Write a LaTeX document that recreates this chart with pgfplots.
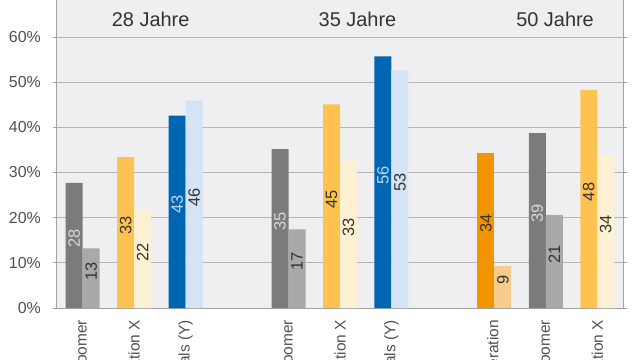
\documentclass[border=0pt]{standalone}
\usepackage{pgfplots}
\pgfplotsset{compat=1.18}
\usepackage{fontspec}
\setmainfont{Liberation Sans}
\definecolor{bg}{HTML}{EFEFF1}
\definecolor{axisgray}{HTML}{A4A4A6}
\definecolor{gridgray}{HTML}{B4B4B6}
\definecolor{labelgray}{HTML}{505050}
\definecolor{titlegray}{HTML}{333333}
\definecolor{dgray}{HTML}{7B7B7B}
\definecolor{lgray}{HTML}{A9A9A9}
\definecolor{yel}{HTML}{FDC250}
\definecolor{cream}{HTML}{FEF0D2}
\definecolor{blu}{HTML}{0066B2}
\definecolor{lblu}{HTML}{D4E4F5}
\definecolor{ora}{HTML}{F29400}
\definecolor{lora}{HTML}{F8CA8C}
\definecolor{lightlbl}{HTML}{D8D8D8}
\definecolor{bluelbl}{HTML}{BCD8F2}
\definecolor{darklbl}{HTML}{333333}
\pgfplotsset{
  lbl/.style 2 args={
    nodes near coords={\pgfmathprintnumber[fixed,precision=0,assume math mode=true]{\pgfplotspointmeta}},
    point meta=y,
    visualization depends on=rawy \as \rawy,
    every node near coord/.append style={
      shift={(axis direction cs:0,-\rawy/2)}, xshift=#1, yshift=7bp, rotate=90, anchor=center,
      font=\fontsize{16.5}{16.5}\selectfont, text=#2, inner sep=0pt},
  },
  mybar/.style 2 args={ybar, bar width=17bp, bar shift=#1, fill=#2, draw=none},
}
\begin{document}
\begin{tikzpicture}
\useasboundingbox (-57bp,-52bp) rectangle (583bp,308bp);
\clip (-57bp,-52bp) rectangle (583bp,308bp);
\begin{axis}[
  at={(0,0)}, anchor=south west,
  scale only axis, width=566bp, height=325.2bp,
  xmin=-0.5, xmax=10.5, ymin=0, ymax=72,
  axis background/.style={fill=bg},
  axis line style={draw=axisgray, line width=1bp},
  ytick={0,10,20,30,40,50,60},
  yticklabels={0\%,10\%,20\%,30\%,40\%,50\%,60\%},
  ymajorgrids, grid style={draw=gridgray, line width=1bp},
  tick align=outside, major tick length=4bp,
  ytick style={draw=axisgray, line width=1bp},
  xtick={0,1,2,4,5,6,8,9,10},
  xticklabels={Babyboomer,Generation X,Millennials (Y),Babyboomer,Generation X,Millennials (Y),Nachkriegsgeneration,Babyboomer,Generation X},
  xtick style={draw=none},
  xticklabel style={yshift=-8bp, rotate=90, anchor=east, inner sep=0pt, font=\fontsize{15.5}{15.5}\selectfont, text=labelgray},
  yticklabel style={xshift=-12bp, anchor=east, inner sep=0pt, font=\fontsize{16}{16}\selectfont, text=labelgray},
]
\addplot[mybar={-8.5bp}{dgray}, lbl={-8.5bp}{lightlbl}] coordinates {(0,27.7) (4,35.2) (9,38.7)};
\addplot[mybar={8.5bp}{lgray}, lbl={8.5bp}{darklbl}] coordinates {(0,13.2) (4,17.4) (9,20.6)};
\addplot[mybar={-8.5bp}{yel}, lbl={-8.5bp}{darklbl}] coordinates {(1,33.4) (5,45.1) (10,48.3)};
\addplot[mybar={8.5bp}{cream}, lbl={8.5bp}{darklbl}] coordinates {(1,21.6) (5,32.6) (10,33.9)};
\addplot[mybar={-8.5bp}{blu}, lbl={-8.5bp}{bluelbl}] coordinates {(2,42.6) (6,55.7)};
\addplot[mybar={8.5bp}{lblu}, lbl={8.5bp}{darklbl}] coordinates {(2,45.9) (6,52.6)};
\addplot[mybar={-8.5bp}{ora}, lbl={-8.5bp}{darklbl}] coordinates {(8,34.3)};
\addplot[mybar={8.5bp}{lora}, lbl={8.5bp}{darklbl}] coordinates {(8,9.4)};
\node[font=\fontsize{20}{20}\selectfont, text=titlegray] at (axis cs:1.32,63.8) {28 Jahre};
\node[font=\fontsize{20}{20}\selectfont, text=titlegray] at (axis cs:5.34,63.8) {35 Jahre};
\node[font=\fontsize{20}{20}\selectfont, text=titlegray] at (axis cs:9.18,63.8) {50 Jahre};
\end{axis}
\end{tikzpicture}
\end{document}
